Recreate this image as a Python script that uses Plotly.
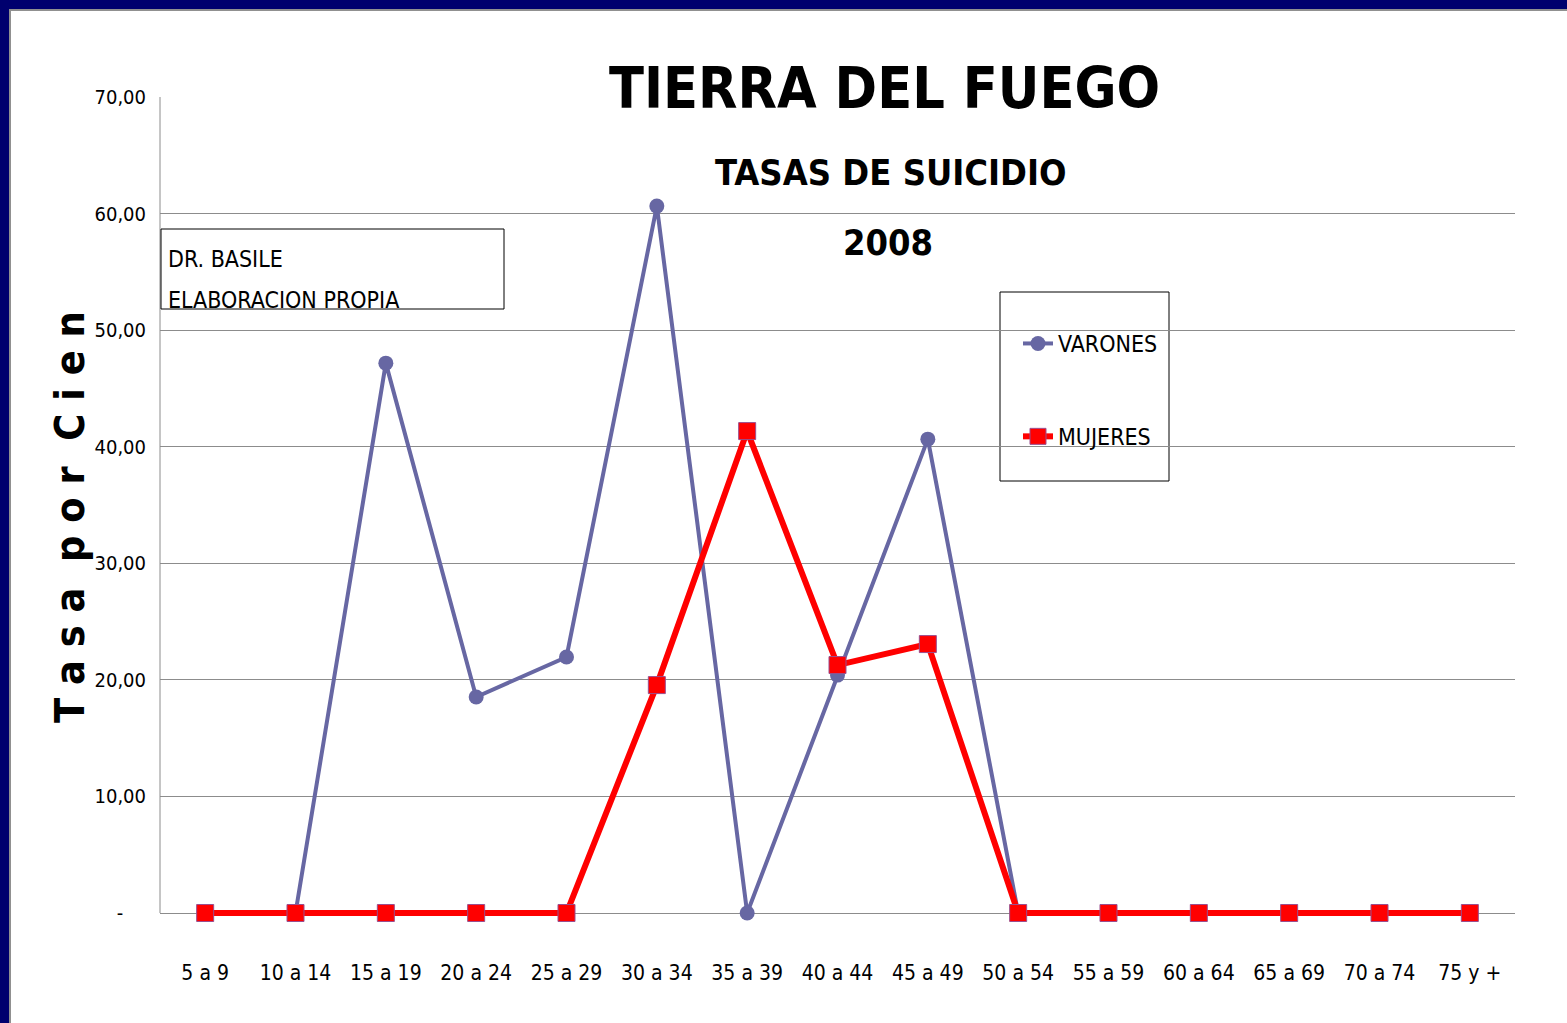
import plotly.graph_objects as go

# Age groups and suicide rates per 100,000 (Tierra del Fuego, 2008)
grupos = ["5 a 9", "10 a 14", "15 a 19", "20 a 24", "25 a 29", "30 a 34", "35 a 39",
          "40 a 44", "45 a 49", "50 a 54", "55 a 59", "60 a 64", "65 a 69", "70 a 74", "75 y +"]
varones = [0, 0, 47.17, 18.53, 21.96, 60.64, 0, 20.41, 40.65, 0, 0, 0, 0, 0, 0]
mujeres = [0, 0, 0, 0, 0, 19.55, 41.34, 21.27, 23.07, 0, 0, 0, 0, 0, 0]
y_ticks = [0, 10, 20, 30, 40, 50, 60, 70]
y_tick_labels = ["-\u00a0\u00a0\u00a0\u00a0", "10,00", "20,00", "30,00", "40,00", "50,00", "60,00", "70,00"]

FONT = "DejaVu Sans Condensed, Liberation Sans Narrow, sans-serif"
W, H = 1567, 1023
Y0_PX, Y70_PX = 913, 97           # pixel rows of the 0 and 70 gridlines
UNIT = (Y0_PX - Y70_PX) / 70.0    # pixels per rate unit
Y_MIN = -5 / UNIT                 # small pad so the zero line is not clipped
L, R, T = 160, 52, Y70_PX
B = H - Y0_PX - 5
PW, PH = W - L - R, H - T - B


def px(x):
    return (x - L) / PW


def py(y):
    return (H - B - y) / PH


fig = go.Figure()
fig.add_trace(go.Scatter(
    x=grupos, y=varones, name="VARONES", mode="lines+markers",
    line=dict(color="#6767a3", width=4),
    marker=dict(symbol="circle", size=15, color="#6767a3"),
    legendgroup="v", cliponaxis=False,
))
fig.add_trace(go.Scatter(
    x=grupos, y=mujeres, name="MUJERES", mode="lines+markers",
    line=dict(color="#ff0000", width=6),
    marker=dict(symbol="square", size=17, color="#ff0000", line=dict(color="#9a4f8e", width=1)),
    legendgroup="m", cliponaxis=False,
))

shapes = [
    # vertical value axis line, from 0 to 70
    dict(type="line", xref="paper", yref="y", x0=0, x1=0, y0=0, y1=70,
         line=dict(color="#8c8c8c", width=1), layer="below"),
    # dark frame along the top and left edges
    dict(type="rect", xref="paper", yref="paper", x0=px(0), x1=px(W), y0=py(9), y1=py(0),
         fillcolor="#00006e", line=dict(width=0), layer="above"),
    dict(type="rect", xref="paper", yref="paper", x0=px(0), x1=px(9), y0=py(H), y1=py(0),
         fillcolor="#00006e", line=dict(width=0), layer="above"),
    dict(type="line", xref="paper", yref="paper", x0=px(9), x1=px(W), y0=py(10), y1=py(10),
         line=dict(color="#909090", width=2), layer="above"),
    dict(type="line", xref="paper", yref="paper", x0=px(10), x1=px(10), y0=py(H), y1=py(10),
         line=dict(color="#909090", width=2), layer="above"),
    # author box
    dict(type="rect", xref="paper", yref="paper", x0=px(161), x1=px(504), y0=py(309), y1=py(229),
         fillcolor="white", line=dict(color="black", width=1), layer="above"),
    # legend box
    dict(type="rect", xref="paper", yref="paper", x0=px(1000), x1=px(1169), y0=py(481), y1=py(292),
         fillcolor="white", line=dict(color="black", width=1), layer="below"),
]

annotations = [
    dict(text="<b>TIERRA DEL FUEGO</b>", x=px(884), y=py(88), xref="paper", yref="paper",
         xanchor="center", yanchor="middle", showarrow=False,
         font=dict(size=57, color="black", family=FONT)),
    dict(text="<b>TASAS DE SUICIDIO</b>", x=px(891), y=py(173), xref="paper", yref="paper",
         xanchor="center", yanchor="middle", showarrow=False,
         font=dict(size=36, color="black", family=FONT)),
    dict(text="<b>2008</b>", x=px(888), y=py(243), xref="paper", yref="paper",
         xanchor="center", yanchor="middle", showarrow=False,
         font=dict(size=36, color="black", family=FONT)),
    dict(text="DR. BASILE", x=px(166), y=py(259), xref="paper", yref="paper",
         xanchor="left", yanchor="middle", showarrow=False,
         font=dict(size=23, color="black", family=FONT)),
    dict(text="ELABORACION PROPIA", x=px(166), y=py(300), xref="paper", yref="paper",
         xanchor="left", yanchor="middle", showarrow=False,
         font=dict(size=23, color="black", family=FONT)),
    dict(text="<b>T a s a  p o r  C i e n</b>", x=px(70), y=py(725), xref="paper", yref="paper",
         xanchor="center", yanchor="bottom", textangle=-90, showarrow=False,
         font=dict(size=41, color="black", family=FONT)),
]

fig.update_layout(
    width=W, height=H,
    margin=dict(l=L, r=R, t=T, b=B),
    paper_bgcolor="white", plot_bgcolor="white",
    font=dict(family=FONT, color="black"),
    showlegend=True,
    legend=dict(x=px(1018), y=py(322), xanchor="left", yanchor="top",
                bgcolor="rgba(0,0,0,0)", borderwidth=0,
                font=dict(size=23, color="black", family=FONT),
                tracegroupgap=60, traceorder="grouped"),
    shapes=shapes,
    annotations=annotations,
    xaxis=dict(range=[-0.5, 14.5], showgrid=False, showline=False, ticks="",
               tickfont=dict(size=21, family=FONT, color="black"), ticklabelstandoff=40,
               zeroline=False),
    yaxis=dict(range=[Y_MIN, 70], tickvals=y_ticks, ticktext=y_tick_labels,
               showgrid=True, gridcolor="#8c8c8c", gridwidth=1,
               showline=False, ticks="", ticklabelstandoff=13,
               tickfont=dict(size=20, family=FONT, color="black"),
               zeroline=True, zerolinecolor="#8c8c8c", zerolinewidth=1),
)

fig.write_html("out.html")
